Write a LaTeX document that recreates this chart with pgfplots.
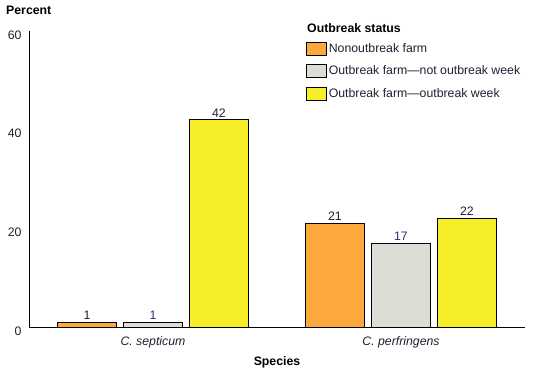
\documentclass[border=0pt]{standalone}
\usepackage{fontspec}
\setmainfont{Liberation Sans}
\usepackage{pgfplots}
\pgfplotsset{compat=1.18}
\definecolor{corange}{RGB}{251,169,63}
\definecolor{cgrey}{RGB}{221,220,213}
\definecolor{cyellow}{RGB}{245,238,41}
\definecolor{cnavy}{RGB}{31,56,100}
\definecolor{ctext}{RGB}{30,32,50}
\begin{document}
\begin{tikzpicture}[x=1pt,y=1pt]
\path[use as bounding box] (-29,-45) rectangle (521,327);
\begin{axis}[
  at={(0pt,0pt)}, anchor=south west,
  scale only axis, width=496pt, height=296pt,
  ymin=0, ymax=60, xmin=-0.5, xmax=1.5,
  ytick={0,20,40,60},
  xtick={0,1},
  xticklabels={\textit{C. septicum},\textit{C. perfringens}},
  major tick length=0pt,
  axis x line*=bottom, axis y line*=left,
  axis line style={-, line width=0.8pt},
  tick label style={font=\fontsize{12.3}{14}\selectfont, text=ctext},
  /pgf/number format/assume math mode=true,
  yticklabel style={xshift=-4pt, yshift=-4pt},
  xticklabel style={yshift=-6pt},
  ybar=7pt, bar width=59pt,
  nodes near coords,
  every node near coord/.append style={font=\fontsize{12.3}{14}\selectfont, yshift=-1pt},
  legend style={at={(0.552,0.972)}, anchor=north west, draw=none, fill=none,
    font=\fontsize{12.3}{14}\selectfont, row sep=8pt, cells={anchor=west}, text=ctext},
  legend image code/.code={\draw[#1, draw=black, line width=0.8pt] (0pt,-6.5pt) rectangle (20pt,6.5pt);},
  clip=false,
]
\addplot[fill=corange, draw=black, line width=0.8pt, every node near coord/.append style={text=ctext}] coordinates {(0,1) (1,21)};
\addplot[fill=cgrey, draw=black, line width=0.8pt, every node near coord/.append style={text=cnavy}] coordinates {(0,1) (1,17)};
\addplot[fill=cyellow, draw=black, line width=0.8pt, every node near coord/.append style={text=ctext}] coordinates {(0,42) (1,22)};
\legend{Nonoutbreak farm, Outbreak farm---not outbreak week, Outbreak farm---outbreak week}
\end{axis}
\node[anchor=west, inner sep=0pt, font=\bfseries\fontsize{12.3}{14}\selectfont] at (278,298.5) {Outbreak status};
\node[anchor=west, inner sep=0pt, font=\bfseries\fontsize{12.3}{14}\selectfont] at (-23,317) {Percent};
\node[font=\bfseries\fontsize{12.3}{14}\selectfont] at (248,-35) {Species};
\end{tikzpicture}
\end{document}
